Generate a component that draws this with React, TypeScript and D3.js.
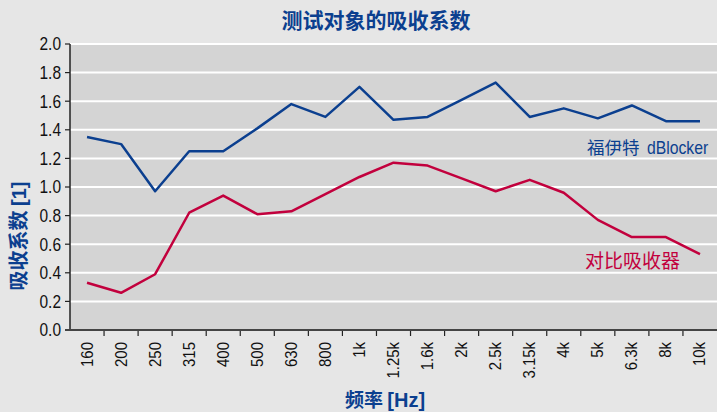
import * as d3 from "d3";

const freqs = ["160", "200", "250", "315", "400", "500", "630", "800", "1k", "1.25k", "1.6k", "2k", "2.5k", "3.15k", "4k", "5k", "6.3k", "8k", "10k"];
const dblocker = [1.35, 1.3, 0.97, 1.25, 1.25, 1.41, 1.58, 1.49, 1.7, 1.47, 1.49, 1.61, 1.73, 1.49, 1.55, 1.48, 1.57, 1.46, 1.46];
const reference = [0.33, 0.26, 0.39, 0.82, 0.94, 0.81, 0.83, 0.95, 1.07, 1.17, 1.15, 1.06, 0.97, 1.05, 0.96, 0.77, 0.65, 0.65, 0.53];
const yTicks = [0, 0.2, 0.4, 0.6, 0.8, 1.0, 1.2, 1.4, 1.6, 1.8, 2.0];

const W = 717;
const H = 412;
const left = 70;
const right = 717;
const top = 44;
const bottom = 330;
const blue = "#0b3f8f";
const red = "#c2003d";
const tickFont = "'Liberation Sans', Arial, sans-serif";
const cjkFont = "'Noto Sans CJK SC', 'Liberation Sans', sans-serif";

export default function App() {
  const x = d3.scaleBand().domain(freqs).range([left, right]).padding(0);
  const y = d3.scaleLinear().domain([0, 2]).range([bottom, top]);
  const cx = (i: number) => (x(freqs[i]) as number) + x.bandwidth() / 2;

  const line = d3
    .line<number>()
    .x((_, i) => cx(i))
    .y((d) => y(d));

  return (
    <svg
      width={W}
      height={H}
      style={{ position: "absolute", left: 0, top: 0, display: "block" }}
    >
      <rect x={0} y={0} width={W} height={H} fill="#e6e6e6" />
      <rect x={left} y={top} width={right - left} height={bottom - top} fill="#d4d4d4" />
      {yTicks.map((t) => (
        <g key={t}>
          {t > 0 && (
            <line x1={left} x2={right} y1={y(t)} y2={y(t)} stroke="#ffffff" strokeWidth={2} />
          )}
          <line x1={left - 5} x2={left} y1={y(t)} y2={y(t)} stroke="#222" strokeWidth={1.2} />
          <text
            transform={`translate(${left - 9},${y(t)}) scale(0.86,1)`}
            dy="0.36em"
            textAnchor="end"
            fontFamily={tickFont}
            fontSize={18}
            fill="#111"
          >
            {t.toFixed(1)}
          </text>
        </g>
      ))}
      {/* x axis ticks at band boundaries */}
      {freqs.map((f, i) => (
        <g key={f}>
          {i > 0 && (
            <line
              x1={x(f) as number}
              x2={x(f) as number}
              y1={bottom}
              y2={bottom + 6}
              stroke="#222"
              strokeWidth={1.2}
            />
          )}
          <text
            transform={`translate(${cx(i) + 5.5},${bottom + 12}) rotate(-90) scale(0.88,1)`}
            textAnchor="end"
            fontFamily={tickFont}
            fontSize={17}
            fill="#111"
          >
            {f}
          </text>
        </g>
      ))}
      <line x1={left} x2={left} y1={top} y2={bottom + 1} stroke="#222" strokeWidth={1.5} />
      <line x1={left - 5} x2={right} y1={bottom} y2={bottom} stroke="#444" strokeWidth={2} />

      <path d={line(dblocker) as string} fill="none" stroke={blue} strokeWidth={2.5} strokeLinejoin="round" />
      <path d={line(reference) as string} fill="none" stroke={red} strokeWidth={2.5} strokeLinejoin="round" />

      <text x={587} y={154} fontFamily={cjkFont} fontSize={17.5} fill={blue}>
        福伊特
      </text>
      <text
        transform="translate(647,154) scale(0.9,1)"
        fontFamily={tickFont}
        fontSize={17.5}
        fill={blue}
      >
        dBlocker
      </text>
      <text x={585} y={268} fontFamily={cjkFont} fontSize={19} fill={red}>
        对比吸收器
      </text>

      <text
        x={376}
        y={28}
        textAnchor="middle"
        fontFamily={cjkFont}
        fontSize={21}
        fontWeight="bold"
        fill={blue}
      >
        测试对象的吸收系数
      </text>
      <text
        transform={`translate(26,236) rotate(-90)`}
        textAnchor="middle"
        fontFamily={cjkFont}
        fontSize={20}
        fontWeight="bold"
        fill={blue}
      >
        吸收系数 <tspan fontFamily={tickFont} fontSize={20}>[1]</tspan>
      </text>
      <text
        x={385}
        y={407}
        textAnchor="middle"
        fontFamily={cjkFont}
        fontSize={19}
        fontWeight="bold"
        fill={blue}
      >
        频率 <tspan fontFamily={tickFont} fontSize={20}>[Hz]</tspan>
      </text>
    </svg>
  );
}
